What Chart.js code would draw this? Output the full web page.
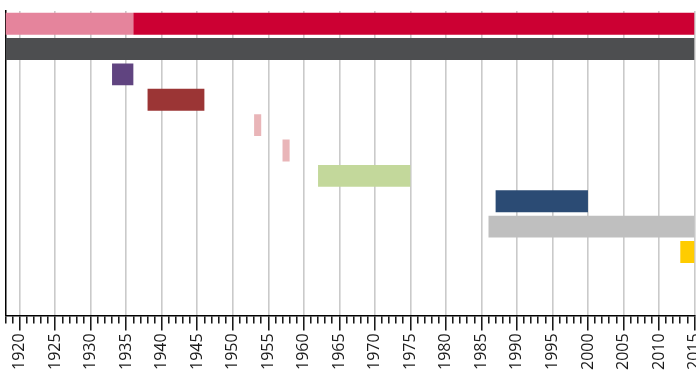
<!DOCTYPE html>
<html>
<head>
<meta charset="utf-8">
<script src="https://cdn.jsdelivr.net/npm/chart.js@4/dist/chart.umd.min.js"></script>
<style>
  html, body { margin: 0; padding: 0; background: #fff; overflow: hidden; }
</style>
</head>
<body>
<canvas id="timeline" width="696" height="385"></canvas>
<script>
const rows = ['1', '2', '3', '4', '5', '6', '7', '8', '9', '10', '11', '12'];
const startYears = [1936, 1918, 1933, 1938, 1953, 1957, 1962, 1987, 1986, 2013, null, null];
const endYears = [2015, 2015, 1936, 1946, 1954, 1958, 1975, 2000, 2015, 2015, null, null];
const barColors = ['#CC0033', '#4D4E50', '#604480', '#9B3535', '#E9B5B8', '#E9B5B8',
  '#C3D89B', '#2B4B74', '#BFBFBF', '#FFCC00', '#ffffff', '#ffffff'];
// first row starts with a lighter segment
const earlyStart = [1918, null, null, null, null, null, null, null, null, null, null, null];
const earlyEnd = [1936, null, null, null, null, null, null, null, null, null, null, null];
const earlyColor = '#E5849C';
const yearMin = 1918;
const yearMax = 2015;

function pairs(a, b) {
  return a.map((v, i) => (v === null ? null : [v, b[i]]));
}

const ctx = document.getElementById('timeline').getContext('2d');
const chart = new Chart(ctx, {
  type: 'bar',
  data: {
    labels: rows,
    datasets: [
      {
        data: pairs(startYears, endYears),
        backgroundColor: barColors,
        borderWidth: 0,
        grouped: false,
        barPercentage: 0.863,
        categoryPercentage: 1
      },
      {
        data: pairs(earlyStart, earlyEnd),
        backgroundColor: earlyColor,
        borderWidth: 0,
        grouped: false,
        barPercentage: 0.863,
        categoryPercentage: 1
      }
    ]
  },
  options: {
    indexAxis: 'y',
    responsive: false,
    animation: false,
    layout: { padding: { left: 5.5, top: 11, bottom: 12, right: 1.5 } },
    plugins: { legend: { display: false }, tooltip: { enabled: false } },
    scales: {
      x: {
        type: 'linear',
        min: yearMin,
        max: yearMax,
        // let the last label run off the edge like the original
        afterFit: s => { s.paddingLeft = 0; s.paddingRight = 0; },
        border: { display: true, color: '#000', width: 1.5 },
        grid: {
          color: c => (c.tick && c.tick.value % 5 === 0 ? '#cacaca' : 'rgba(0,0,0,0)'),
          lineWidth: 1.6,
          tickColor: '#000',
          tickWidth: 1.4,
          tickLength: 15,
          tickBorderDash: c => (c.tick && c.tick.value % 5 === 0 ? [] : [7, 30])
        },
        ticks: {
          stepSize: 1,
          autoSkip: false,
          minRotation: 90,
          maxRotation: 90,
          padding: 3,
          color: '#1a1a1a',
          font: { family: 'Open Sans', size: 16 },
          callback: v => (v % 5 === 0 ? String(v) : '')
        }
      },
      y: {
        type: 'category',
        border: { display: true, color: '#000', width: 1.5 },
        grid: { display: false, drawTicks: false },
        ticks: { display: false }
      }
    }
  }
});
</script>
</body>
</html>
